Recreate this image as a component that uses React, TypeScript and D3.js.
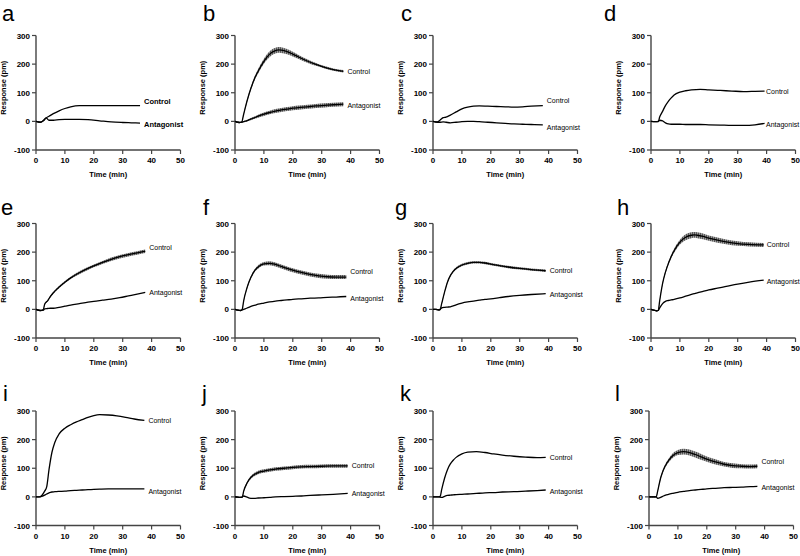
import React from "react";
import * as d3 from "d3";

// ---- Data (time in min, response in pm) ----
const letters = ["a", "b", "c", "d", "e", "f", "g", "h", "i", "j", "k", "l"];
const xTicks = [0, 10, 20, 30, 40, 50];
const yTicks = [-100, 0, 100, 200, 300];

const tA = [0, 1.5, 2.5, 3.5, 4.5, 6, 8, 10, 12, 15, 18, 22, 26, 30, 33, 36];
const ctrlA = [0, -3, 2, 12, 18, 27, 37, 45, 51, 55, 55, 55, 55, 55, 55, 55];
const antA = [0, -3, 2, 12, 4, 4, 6, 7, 7, 7, 6, 2, -2, -4, -5, -6];

const tB = [0, 1.5, 2.3, 3, 4, 5, 6, 7, 8, 10, 12, 14, 15, 16, 18, 20, 22, 25, 28, 31, 34, 37.5];
const ctrlB = [0, -4, -3, 25, 65, 100, 130, 155, 175, 210, 235, 247, 250, 249, 244, 235, 225, 211, 199, 189, 181, 175];
const ctrlErrB = [0, 0, 0, 1, 2, 3, 4, 5, 6, 7, 8, 8, 8, 8, 7, 6, 5, 4, 3, 2, 2, 2];
const antB = [0, -4, -3, -1, 2, 6, 10, 14, 18, 25, 31, 36, 38, 40, 43, 46, 48, 51, 54, 56, 58, 60];
const antErrB = [0, 0, 0, 0, 1, 1, 2, 2, 3, 4, 4, 5, 5, 5, 5, 5, 5, 5, 5, 5, 5, 5];

const tC = [0, 1.5, 2.5, 3.5, 4.5, 6, 8, 10, 12, 14, 16, 19, 22, 25, 28, 31, 34, 38];
const ctrlC = [0, -2, 5, 13, 15, 22, 33, 44, 50, 53, 54, 53, 52, 51, 50, 51, 53, 55];
const antC = [0, -3, -3, -2, -3, -5, -3, -1, 0, 0, -1, -3, -5, -7, -9, -10, -11, -12];

const tD = [0, 1.5, 2.5, 3, 4, 5, 6, 7, 8, 10, 12, 14, 17, 20, 24, 28, 32, 36, 39.3];
const ctrlD = [0, -1, -1, 15, 35, 55, 70, 82, 92, 102, 107, 110, 112, 110, 108, 106, 104, 105, 106];
const antD = [0, -1, 0, 4, 2, -5, -9, -10, -10, -10, -11, -11, -11, -12, -13, -14, -14, -12, -7];

const tE = [0, 1.5, 2.5, 3, 4, 5, 6, 8, 10, 12, 15, 18, 20, 23, 26, 29, 32, 35, 37.8];
const ctrlE = [0, -4, -2, 18, 30, 45, 58, 78, 95, 110, 128, 143, 152, 164, 175, 184, 191, 197, 203];
const ctrlErrE = [0, 0, 0, 0, 1, 1, 1, 2, 2, 2, 3, 3, 3, 3, 4, 4, 4, 4, 4];
const antE = [0, -4, -3, 2, 3, 4, 4, 7, 11, 15, 20, 25, 28, 32, 36, 41, 47, 53, 59];

const tF = [0, 1, 2, 2.5, 3, 4, 5, 6, 7, 8, 10, 12, 14, 16, 18, 20, 23, 26, 29, 32, 35, 38.5];
const ctrlF = [0, -3, -4, 0, 30, 70, 100, 122, 138, 148, 159, 161, 157, 150, 143, 137, 129, 122, 117, 114, 113, 113];
const ctrlErrF = [0, 0, 0, 0, 1, 2, 2, 3, 3, 4, 4, 5, 5, 5, 5, 5, 5, 5, 5, 5, 5, 5];
const antF = [0, -3, -4, -2, 0, 4, 8, 12, 15, 18, 22, 26, 29, 31, 33, 35, 37, 39, 40, 42, 43, 45];

const tG = [0, 1, 2, 2.5, 3, 4, 5, 6, 7, 8, 10, 12, 14, 16, 18, 20, 23, 26, 30, 34, 39];
const ctrlG = [0, 0, -2, 0, 20, 60, 95, 118, 133, 143, 155, 161, 164, 164, 162, 158, 153, 148, 143, 139, 135];
const ctrlErrG = [0, 0, 0, 0, 1, 1, 1, 2, 2, 2, 2, 2, 2, 2, 2, 2, 2, 2, 2, 2, 2];
const antG = [0, 0, -2, 0, 5, 7, 8, 9, 12, 16, 22, 26, 29, 32, 35, 37, 41, 45, 49, 52, 55];

const tH = [0, 1, 2, 2.5, 3, 4, 5, 6, 7, 8, 10, 12, 14, 15, 16, 18, 20, 23, 26, 30, 34, 39];
const ctrlH = [0, -3, -5, -4, 30, 90, 130, 160, 185, 205, 235, 252, 259, 260, 259, 255, 249, 242, 236, 230, 227, 225];
const ctrlErrH = [0, 0, 0, 0, 1, 2, 3, 3, 4, 5, 6, 8, 8, 8, 8, 8, 7, 7, 6, 6, 5, 5];
const antH = [0, -3, -5, -4, 5, 20, 28, 31, 33, 35, 40, 46, 52, 55, 58, 63, 68, 74, 80, 88, 95, 102];

const tI = [0, 1, 2, 3, 3.7, 4.5, 5.5, 6.5, 8, 10, 12, 14, 16, 18, 20, 22, 25, 28, 31, 34, 37.5];
const ctrlI = [0, 0, 5, 20, 35, 95, 155, 190, 220, 240, 252, 262, 270, 278, 284, 287, 286, 283, 278, 272, 267];
const antI = [0, 0, 2, 6, 10, 14, 17, 18, 19, 20, 22, 23, 24, 25, 26, 27, 28, 28, 28, 28, 28];

const tJ = [0, 1, 2, 2.5, 3, 4, 5, 6, 7, 8, 10, 12, 14, 17, 20, 23, 26, 30, 34, 39];
const ctrlJ = [0, -1, -2, -1, 20, 45, 62, 73, 80, 85, 90, 94, 97, 100, 103, 105, 106, 107, 108, 108];
const ctrlErrJ = [0, 0, 0, 0, 1, 2, 3, 3, 4, 4, 4, 4, 4, 4, 4, 4, 4, 4, 4, 4];
const antJ = [0, -1, -2, 0, 3, 0, -4, -5, -5, -4, -3, -2, 0, 1, 2, 3, 5, 7, 9, 12];

const tK = [0, 1, 2, 2.5, 3, 4, 5, 6, 7, 8, 10, 12, 15, 18, 21, 24, 28, 32, 36, 39];
const ctrlK = [0, 0, 0, 2, 25, 65, 95, 115, 128, 138, 150, 156, 158, 155, 150, 146, 142, 139, 137, 138];
const antK = [0, 0, 0, -1, -2, 2, 5, 6, 7, 8, 9, 10, 12, 14, 15, 17, 18, 20, 22, 24];

const tL = [0, 1, 2, 2.5, 3, 4, 5, 6, 7, 8, 10, 12, 14, 16, 18, 20, 23, 26, 29, 32, 35, 37.5];
const ctrlL = [0, 0, 0, 0, 20, 65, 95, 115, 130, 142, 155, 158, 155, 148, 140, 132, 122, 114, 109, 107, 106, 107];
const ctrlErrL = [0, 0, 0, 0, 1, 2, 3, 4, 5, 6, 7, 8, 8, 8, 8, 7, 7, 6, 6, 5, 5, 5];
const antL = [0, 0, 0, 0, -5, -2, 3, 7, 10, 12, 16, 19, 22, 24, 26, 28, 30, 32, 33, 34, 36, 37];

type Panel = {
  t: number[];
  ctrl: number[];
  ant: number[];
  ctrlErr?: number[];
  antErr?: number[];
};

const panels: Panel[] = [
  { t: tA, ctrl: ctrlA, ant: antA },
  { t: tB, ctrl: ctrlB, ant: antB, ctrlErr: ctrlErrB, antErr: antErrB },
  { t: tC, ctrl: ctrlC, ant: antC },
  { t: tD, ctrl: ctrlD, ant: antD },
  { t: tE, ctrl: ctrlE, ant: antE, ctrlErr: ctrlErrE },
  { t: tF, ctrl: ctrlF, ant: antF, ctrlErr: ctrlErrF },
  { t: tG, ctrl: ctrlG, ant: antG, ctrlErr: ctrlErrG },
  { t: tH, ctrl: ctrlH, ant: antH, ctrlErr: ctrlErrH },
  { t: tI, ctrl: ctrlI, ant: antI },
  { t: tJ, ctrl: ctrlJ, ant: antJ, ctrlErr: ctrlErrJ },
  { t: tK, ctrl: ctrlK, ant: antK },
  { t: tL, ctrl: ctrlL, ant: antL, ctrlErr: ctrlErrL },
];

// ---- Layout ----
const colX = [36, 235, 433, 651];
const rowY = [35.5, 223.5, 411];
const plotW = 144.5;
const plotH = 114.5;
const FONT = "Arial, 'Liberation Sans', Helvetica, sans-serif";
const letterX = [2, 203, 401, 604, 1, 203, 395, 617, 3, 202, 400, 615];
const letterY = [21, 215, 401];
const labelDx = [4, 4, 4, 1.5, 4, 4, 4, 3, 4, 4, 4, 4];
const labelDy = [
  [-4, 1], [0, 1], [-5, 3], [0, 1],
  [-4, 0], [-6, 2], [0, 1], [0, 1],
  [0, 3], [0, 0], [0, 1], [-5, 1],
];

function PanelView({ idx, p }: { idx: number; p: Panel }) {
  const col = idx % 4;
  const row = Math.floor(idx / 4);
  const x0 = colX[col] - (idx === 11 ? 2 : 0);
  const y0 = rowY[row];
  const xs = d3.scaleLinear().domain([0, 50]).range([x0, x0 + plotW]);
  const ys = d3.scaleLinear().domain([-100, 300]).range([y0 + plotH, y0]);
  const line = d3
    .line<number>()
    .x((_, i) => xs(p.t[i]))
    .y((v) => ys(v))
    .curve(d3.curveMonotoneX);
  const band = (vals: number[], err: number[]) =>
    d3
      .area<number>()
      .x((_, i) => xs(p.t[i]))
      .y0((v, i) => ys(v - err[i]) + 0.6)
      .y1((v, i) => ys(v + err[i]) - 0.6)
      .curve(d3.curveMonotoneX)(vals) as string;
  const n = p.t.length - 1;
  const bold = idx === 0;
  const lblSize = bold ? 7.5 : 7;
  const axisColor = "#444";
  const lx = xs(p.t[n]) + labelDx[idx];
  return (
    <g>
      <text x={letterX[idx]} y={letterY[row]} fontFamily={FONT} fontSize={22} fill="#000">
        {letters[idx]}
      </text>
      {/* axes */}
      <line x1={x0} x2={x0} y1={y0} y2={y0 + plotH} stroke={axisColor} strokeWidth={1.4} />
      <line x1={x0} x2={x0 + plotW} y1={y0 + plotH} y2={y0 + plotH} stroke={axisColor} strokeWidth={1.4} />
      {yTicks.map((v) => (
        <g key={"y" + v}>
          <line x1={x0 - 4} x2={x0} y1={ys(v)} y2={ys(v)} stroke={axisColor} strokeWidth={1.2} />
          <text x={x0 - 6} y={ys(v) + 3} textAnchor="end" fontFamily={FONT} fontSize={8} fontWeight="bold">
            {v}
          </text>
        </g>
      ))}
      {xTicks.map((v) => (
        <g key={"x" + v}>
          <line x1={xs(v)} x2={xs(v)} y1={y0 + plotH} y2={y0 + plotH + 4} stroke={axisColor} strokeWidth={1.2} />
          <text x={xs(v)} y={y0 + plotH + 13} textAnchor="middle" fontFamily={FONT} fontSize={8} fontWeight="bold">
            {v}
          </text>
        </g>
      ))}
      <text x={xs(25)} y={y0 + plotH + 27} textAnchor="middle" fontFamily={FONT} fontSize={7.5} fontWeight="bold">
        Time (min)
      </text>
      <text
        transform={`translate(${x0 - 30},${ys(100) - 5}) rotate(-90)`}
        textAnchor="middle"
        fontFamily={FONT}
        fontSize={7.5}
        fontWeight="bold"
      >
        Response (pm)
      </text>
      {/* bands */}
      {p.ctrlErr && <path d={band(p.ctrl, p.ctrlErr)} fill="url(#hatch)" stroke="none" />}
      {p.antErr && <path d={band(p.ant, p.antErr)} fill="url(#hatch)" stroke="none" />}
      {/* lines */}
      <path d={line(p.ctrl) as string} fill="none" stroke="#000" strokeWidth={1.3} />
      <path d={line(p.ant) as string} fill="none" stroke="#000" strokeWidth={1.3} />
      {/* labels */}
      <text x={lx} y={ys(p.ctrl[n]) + labelDy[idx][0] + 2.5} fontFamily={FONT}
        fontSize={lblSize} fontWeight={bold ? "bold" : "normal"}>Control</text>
      <text x={lx} y={ys(p.ant[n]) + labelDy[idx][1] + 2.5} fontFamily={FONT}
        fontSize={lblSize} fontWeight={bold ? "bold" : "normal"}>Antagonist</text>
    </g>
  );
}

export default function App() {
  return (
    <svg width={800} height={556} style={{ position: "absolute", left: 0, top: 0, background: "#fff" }}>
      <defs>
        <pattern id="hatch" width={2} height={4} patternUnits="userSpaceOnUse">
          <rect width={2} height={4} fill="#9a9a9a" />
          <rect width={1} height={4} fill="#555" />
        </pattern>
      </defs>
      <rect width={800} height={556} fill="#fff" />
      {panels.map((p, i) => (
        <PanelView key={i} idx={i} p={p} />
      ))}
    </svg>
  );
}
